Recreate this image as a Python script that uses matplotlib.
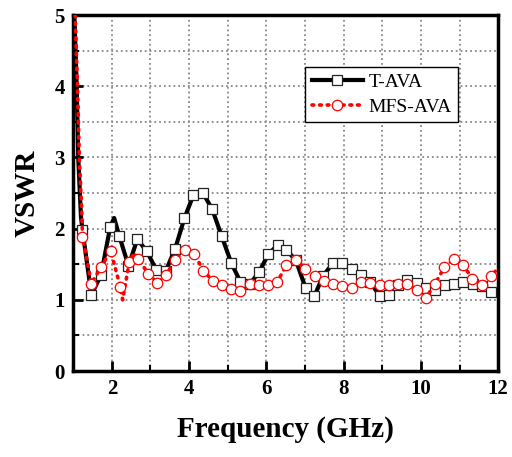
import numpy as np
import matplotlib
matplotlib.use('Agg')
import matplotlib.pyplot as plt
from matplotlib.ticker import MultipleLocator


# T-AVA: samples with square markers
t_freq = [1.24, 1.47, 1.72, 1.96, 2.19, 2.43, 2.66, 2.91, 3.15, 3.39, 3.64, 3.88,
          4.11, 4.36, 4.60, 4.84, 5.09, 5.33, 5.57, 5.81, 6.05, 6.29, 6.52, 6.76,
          7.02, 7.24, 7.47, 7.73, 7.97, 8.22, 8.46, 8.69, 8.94, 9.17, 9.41, 9.65,
          9.89, 10.12, 10.37, 10.62, 10.86, 11.10, 11.34, 11.58, 11.82]
t_vswr = [1.98, 1.07, 1.35, 2.03, 1.90, 1.48, 1.85, 1.68, 1.42, 1.40, 1.72, 2.15,
          2.47, 2.50, 2.27, 1.90, 1.52, 1.25, 1.22, 1.39, 1.64, 1.77, 1.70, 1.56,
          1.16, 1.05, 1.34, 1.52, 1.52, 1.44, 1.35, 1.25, 1.05, 1.07, 1.21, 1.28,
          1.24, 1.16, 1.14, 1.21, 1.23, 1.25, 1.22, 1.20, 1.11]
# T-AVA: extra line-only points (steep start, peaks, end)
t_line_freq = [1.03, 1.09, 1.13, 1.20, 2.06, 12.0]
t_line_vswr = [5.00, 4.00, 3.00, 2.17, 2.15, 1.07]

# MFS-AVA: samples with circle markers
m_freq = [1.24, 1.47, 1.72, 1.97, 2.22, 2.45, 2.68, 2.94, 3.18, 3.40, 3.64, 3.89,
          4.13, 4.37, 4.61, 4.85, 5.09, 5.33, 5.57, 5.81, 6.05, 6.28, 6.52, 6.76,
          7.00, 7.25, 7.49, 7.73, 7.97, 8.21, 8.45, 8.69, 8.93, 9.17, 9.41, 9.65,
          9.89, 10.13, 10.37, 10.61, 10.85, 11.09, 11.33, 11.58, 11.82]
m_vswr = [1.89, 1.23, 1.46, 1.69, 1.18, 1.53, 1.58, 1.37, 1.24, 1.35, 1.56, 1.70,
          1.65, 1.41, 1.27, 1.21, 1.15, 1.12, 1.22, 1.21, 1.21, 1.25, 1.49, 1.56,
          1.44, 1.33, 1.27, 1.22, 1.19, 1.17, 1.25, 1.24, 1.21, 1.21, 1.23, 1.23,
          1.14, 1.03, 1.23, 1.46, 1.57, 1.49, 1.30, 1.21, 1.33]
m_line_freq = [1.05, 1.11, 1.16, 1.22, 2.28, 2.57, 11.98]
m_line_vswr = [5.00, 4.00, 2.97, 2.26, 1.00, 1.66, 1.44]


def merged(f1, v1, f2, v2):
    f = np.array(f1 + f2)
    v = np.array(v1 + v2)
    order = np.argsort(f)
    return f[order], v[order]


def main():
    plt.rcParams['font.family'] = ['Liberation Serif', 'DejaVu Serif']
    fig = plt.figure(figsize=(5.12, 4.57), dpi=100)
    ax = fig.add_axes([0.143, 0.188, 0.830, 0.779])

    ax.grid(True, which='both', color='#888888', linestyle=':', linewidth=1.3)
    ax.set_axisbelow(True)

    red_dots = (0, (0.5, 1.6))

    tf, tv = merged(t_freq, t_vswr, t_line_freq, t_line_vswr)
    ax.plot(tf, tv, color='black', linewidth=3.0, zorder=3)
    ax.plot(t_freq, t_vswr, linestyle='none', marker='s', markersize=6.5,
            markerfacecolor='white', markeredgecolor='#222222', markeredgewidth=0.9, zorder=4)

    mf, mv = merged(m_freq, m_vswr, m_line_freq, m_line_vswr)
    ax.plot(mf, mv, color='red', linewidth=2.6, linestyle=red_dots,
            dash_capstyle='round', zorder=5)
    ax.plot(m_freq, m_vswr, linestyle='none', marker='o', markersize=7.5,
            markerfacecolor='white', markeredgecolor='red', markeredgewidth=0.9, zorder=6)

    # legend proxies
    h1, = ax.plot([], [], color='black', linewidth=3.0, marker='s', markersize=6.5,
                  markerfacecolor='white', markeredgecolor='#222222', markeredgewidth=0.9)
    h2, = ax.plot([], [], color='red', linewidth=2.6, linestyle=red_dots,
                  dash_capstyle='round', marker='o', markersize=7.5,
                  markerfacecolor='white', markeredgecolor='red', markeredgewidth=0.9)
    leg = ax.legend([h1, h2], ['T-AVA', 'MFS-AVA'], loc='upper left',
                    bbox_to_anchor=(0.546, 0.855), fontsize=14, frameon=True,
                    fancybox=False, edgecolor='black', framealpha=1,
                    handlelength=2.6, handletextpad=0.3, borderpad=0.35,
                    labelspacing=0.35, borderaxespad=0)
    leg.get_frame().set_linewidth(1.0)
    leg.set_zorder(10)

    ax.set_xlim(1, 12)
    ax.set_ylim(0, 5)
    ax.xaxis.set_major_locator(MultipleLocator(2))
    ax.xaxis.set_minor_locator(MultipleLocator(1))
    ax.yaxis.set_major_locator(MultipleLocator(1))
    ax.yaxis.set_minor_locator(MultipleLocator(0.5))
    ax.tick_params(which='major', direction='in', length=7, width=2,
                   labelsize=15, top=False, right=False, pad=6)
    ax.tick_params(which='minor', direction='in', length=4, width=1.5,
                   top=False, right=False)
    for lab in ax.get_xticklabels() + ax.get_yticklabels():
        lab.set_fontweight('bold')
    for sp in ax.spines.values():
        sp.set_linewidth(2.5)

    ax.set_xlabel('Frequency (GHz)', fontsize=21, fontweight='bold', labelpad=12)
    ax.set_ylabel('VSWR', fontsize=21, fontweight='bold', labelpad=10)

    fig.savefig('out.png', dpi=100)
    plt.close(fig)


if __name__ == '__main__':
    main()
